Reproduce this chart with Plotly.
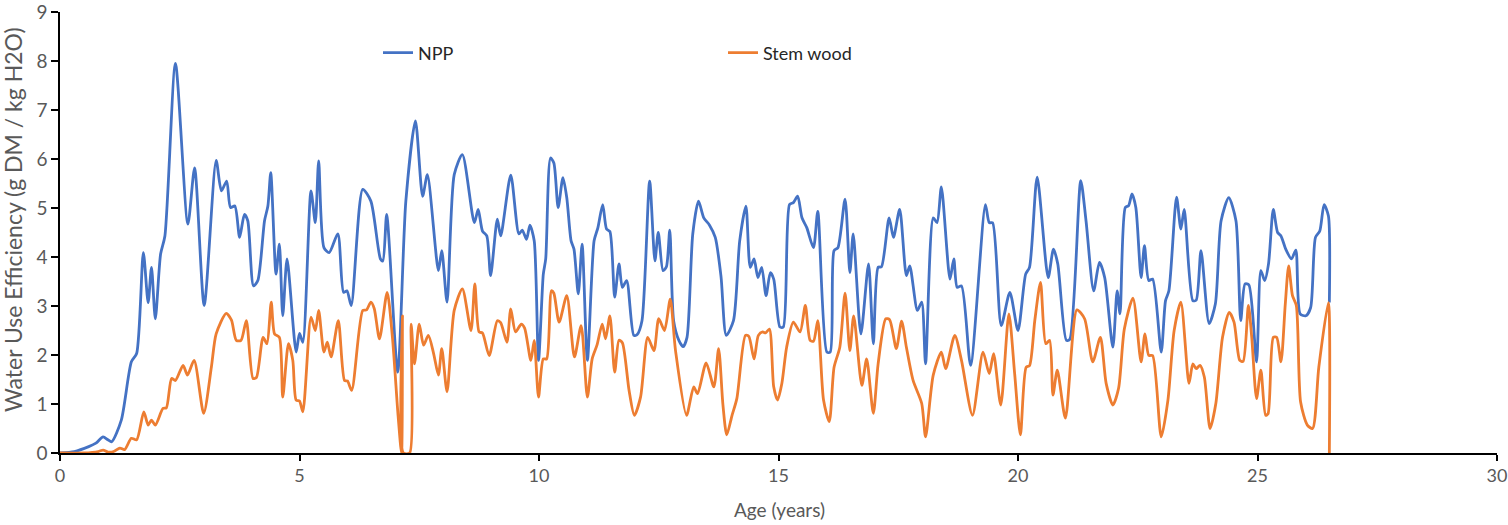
import plotly.graph_objects as go

npp_age = [0.00, 0.30, 0.60, 0.75, 0.90, 1.00, 1.08, 1.28, 1.49, 1.60, 1.74, 1.84, 1.91, 1.99, 2.10, 2.19, 2.41, 2.67, 2.81, 3.01,
           3.26, 3.37, 3.48, 3.56, 3.65, 3.75, 3.85, 3.92, 4.04, 4.13, 4.27, 4.34, 4.40, 4.51, 4.58, 4.65, 4.74, 4.93, 5.00, 5.07,
           5.24, 5.33, 5.40, 5.51, 5.62, 5.80, 5.92, 5.99, 6.08, 6.32, 6.49, 6.69, 6.74, 6.82, 7.05, 7.22, 7.42, 7.57, 7.67, 7.90,
           7.97, 8.08, 8.23, 8.40, 8.65, 8.73, 8.82, 8.91, 8.99, 9.13, 9.20, 9.41, 9.58, 9.65, 9.74, 9.81, 9.90, 9.99, 10.09, 10.14,
           10.24, 10.31, 10.40, 10.50, 10.58, 10.67, 10.73, 10.82, 10.90, 11.01, 11.15, 11.23, 11.33, 11.41, 11.48, 11.58, 11.67, 11.74, 11.83, 11.98,
           12.05, 12.15, 12.31, 12.42, 12.49, 12.59, 12.66, 12.73, 12.81, 12.92, 13.01, 13.09, 13.21, 13.33, 13.44, 13.56, 13.68, 13.80, 13.91, 14.06,
           14.19, 14.32, 14.41, 14.49, 14.57, 14.65, 14.74, 14.83, 14.90, 15.03, 15.10, 15.23, 15.31, 15.40, 15.49, 15.59, 15.73, 15.82, 16.01, 16.08,
           16.16, 16.24, 16.39, 16.49, 16.56, 16.72, 16.88, 16.98, 17.08, 17.15, 17.31, 17.40, 17.53, 17.67, 17.74, 17.90, 17.99, 18.07, 18.23, 18.31,
           18.40, 18.58, 18.66, 18.73, 18.82, 19.01, 19.32, 19.40, 19.47, 19.65, 19.83, 20.00, 20.16, 20.24, 20.40, 20.63, 20.74, 20.83, 21.01, 21.08,
           21.31, 21.42, 21.58, 21.70, 21.81, 21.98, 22.07, 22.13, 22.24, 22.31, 22.38, 22.46, 22.57, 22.64, 22.73, 22.81, 22.99, 23.08, 23.15, 23.31,
           23.40, 23.47, 23.65, 23.72, 23.82, 23.99, 24.12, 24.24, 24.40, 24.55, 24.65, 24.74, 24.82, 24.98, 25.07, 25.15, 25.23, 25.33, 25.42, 25.49,
           25.59, 25.71, 25.80, 25.89, 26.01, 26.11, 26.21, 26.30, 26.39, 26.48, 26.50]
npp_wue = [0.00, 0.03, 0.13, 0.20, 0.33, 0.27, 0.23, 0.67, 1.86, 2.03, 4.09, 3.07, 3.79, 2.74, 4.06, 4.43, 7.95, 4.67, 5.82, 3.01,
           5.97, 5.35, 5.55, 5.01, 5.04, 4.40, 4.87, 4.74, 3.41, 3.52, 4.74, 5.04, 5.72, 3.65, 4.26, 2.80, 3.96, 2.06, 2.44, 2.26,
           5.35, 4.70, 5.96, 4.19, 4.09, 4.47, 3.28, 3.31, 3.01, 5.38, 5.14, 3.96, 3.92, 4.87, 1.65, 5.14, 6.78, 5.24, 5.68, 3.72,
           4.13, 3.08, 5.68, 6.09, 4.70, 4.97, 4.53, 4.43, 3.62, 4.77, 4.43, 5.67, 4.47, 4.55, 4.36, 4.65, 4.33, 1.89, 3.65, 3.96,
           6.02, 5.92, 5.01, 5.62, 5.21, 4.33, 4.16, 3.25, 4.26, 1.89, 4.33, 4.60, 5.07, 4.57, 4.52, 3.18, 3.86, 3.38, 3.52, 2.40,
           2.42, 2.70, 5.55, 3.92, 4.50, 3.72, 3.80, 4.55, 2.70, 2.30, 2.17, 2.36, 4.47, 5.14, 4.80, 4.65, 4.40, 3.60, 2.40, 2.70,
           4.33, 5.04, 3.79, 3.96, 3.58, 3.79, 3.21, 3.68, 3.55, 2.57, 2.57, 5.07, 5.11, 5.24, 4.80, 4.60, 4.19, 4.93, 2.06, 2.06,
           4.13, 4.19, 5.18, 3.68, 4.47, 2.43, 3.86, 2.23, 3.79, 3.80, 4.80, 4.40, 4.97, 3.62, 3.82, 2.91, 3.08, 1.82, 4.80, 4.70,
           5.43, 3.55, 3.96, 3.38, 3.41, 1.79, 5.07, 4.70, 4.70, 2.60, 3.28, 2.50, 3.65, 3.79, 5.63, 3.58, 4.16, 3.86, 2.30, 2.32,
           5.56, 4.74, 3.31, 3.89, 3.58, 2.16, 3.31, 2.84, 5.01, 5.05, 5.29, 5.01, 3.58, 4.23, 3.52, 3.55, 2.06, 3.11, 3.31, 5.22,
           4.57, 4.97, 3.11, 3.12, 4.13, 2.64, 3.04, 4.74, 5.21, 4.74, 2.70, 3.45, 3.43, 1.86, 3.72, 3.52, 3.86, 4.97, 4.50, 4.43,
           4.16, 3.96, 4.14, 2.84, 2.80, 2.97, 4.40, 4.53, 5.07, 4.84, 3.07]

stem_age = [0.00, 0.50, 0.80, 0.90, 1.00, 1.12, 1.25, 1.35, 1.49, 1.60, 1.75, 1.84, 1.91, 1.99, 2.15, 2.22, 2.33, 2.41, 2.57, 2.66,
            2.80, 3.00, 3.16, 3.26, 3.47, 3.58, 3.68, 3.78, 3.89, 4.03, 4.10, 4.24, 4.32, 4.41, 4.48, 4.58, 4.65, 4.77, 4.86, 4.93,
            5.00, 5.07, 5.24, 5.33, 5.40, 5.51, 5.58, 5.66, 5.81, 5.94, 6.00, 6.09, 6.32, 6.40, 6.49, 6.56, 6.67, 6.83, 6.94, 7.06,
            7.13, 7.15, 7.17, 7.30, 7.33, 7.40, 7.50, 7.59, 7.69, 7.80, 7.90, 7.97, 8.08, 8.23, 8.40, 8.58, 8.66, 8.75, 8.82, 8.96,
            9.13, 9.20, 9.33, 9.41, 9.51, 9.63, 9.70, 9.83, 9.90, 9.99, 10.09, 10.16, 10.26, 10.31, 10.42, 10.58, 10.74, 10.88, 11.01, 11.11,
            11.21, 11.32, 11.39, 11.48, 11.58, 11.67, 11.74, 11.88, 11.99, 12.12, 12.27, 12.40, 12.50, 12.62, 12.74, 12.85, 13.08, 13.23, 13.31, 13.49,
            13.65, 13.75, 13.84, 13.92, 14.03, 14.13, 14.31, 14.38, 14.49, 14.58, 14.67, 14.73, 14.81, 14.90, 14.98, 15.07, 15.17, 15.31, 15.45, 15.56,
            15.66, 15.73, 15.82, 15.94, 16.06, 16.16, 16.28, 16.39, 16.49, 16.57, 16.74, 16.84, 16.98, 17.08, 17.24, 17.32, 17.46, 17.57, 17.67, 17.81,
            17.99, 18.07, 18.23, 18.40, 18.49, 18.68, 18.82, 19.05, 19.27, 19.40, 19.49, 19.64, 19.81, 19.93, 20.05, 20.17, 20.24, 20.35, 20.47, 20.58,
            20.66, 20.73, 20.82, 20.99, 21.23, 21.39, 21.56, 21.72, 21.84, 21.98, 22.10, 22.22, 22.40, 22.57, 22.65, 22.73, 22.81, 22.99, 23.13, 23.26,
            23.40, 23.57, 23.65, 23.72, 23.80, 23.89, 24.01, 24.13, 24.27, 24.41, 24.51, 24.63, 24.70, 24.81, 24.88, 24.98, 25.07, 25.17, 25.22, 25.33,
            25.40, 25.49, 25.58, 25.65, 25.73, 25.81, 25.90, 26.04, 26.15, 26.28, 26.48, 26.50]
stem_wue = [0.00, 0.00, 0.03, 0.06, 0.02, 0.03, 0.10, 0.07, 0.30, 0.27, 0.84, 0.57, 0.67, 0.57, 0.91, 0.92, 1.52, 1.48, 1.79, 1.59,
            1.89, 0.81, 1.75, 2.43, 2.85, 2.71, 2.30, 2.30, 2.70, 1.52, 1.54, 2.36, 2.23, 3.08, 2.43, 2.36, 1.14, 2.23, 1.89, 1.08,
            1.06, 0.84, 2.77, 2.50, 2.91, 2.06, 2.26, 1.96, 2.70, 1.48, 1.47, 1.28, 2.91, 2.92, 3.08, 2.95, 2.33, 3.28, 2.36, 0.74,
            0.00, 2.80, 0.00, 0.00, 2.63, 1.82, 2.63, 2.20, 2.40, 2.03, 1.59, 2.13, 1.25, 2.91, 3.35, 2.50, 3.45, 2.47, 2.45, 1.99,
            2.70, 2.66, 2.26, 2.94, 2.47, 2.63, 2.55, 1.89, 2.30, 1.14, 1.92, 1.92, 3.31, 3.26, 2.67, 3.21, 1.96, 2.60, 1.14, 1.92,
            2.20, 2.63, 2.33, 2.80, 1.65, 2.30, 2.25, 1.28, 0.77, 1.14, 2.36, 2.09, 2.74, 2.50, 3.14, 2.09, 0.77, 1.35, 1.21, 1.84,
            1.35, 2.13, 0.98, 0.37, 0.77, 1.11, 2.40, 2.38, 1.92, 2.40, 2.47, 2.45, 2.53, 1.35, 1.08, 1.42, 2.16, 2.67, 2.47, 3.01,
            2.30, 2.28, 2.70, 1.08, 0.64, 1.75, 2.16, 3.26, 2.09, 2.80, 1.38, 1.92, 0.81, 1.82, 2.74, 2.72, 2.13, 2.69, 2.16, 1.48,
            1.01, 0.33, 1.59, 2.06, 1.72, 2.40, 1.89, 0.77, 2.06, 1.62, 2.03, 0.98, 2.84, 1.62, 0.37, 1.75, 1.78, 2.70, 3.48, 2.23,
            2.30, 1.18, 1.69, 0.71, 2.92, 2.74, 1.86, 2.36, 1.42, 0.98, 1.32, 2.53, 3.16, 1.86, 2.43, 1.99, 1.99, 0.33, 1.08, 2.50,
            3.08, 1.42, 1.82, 1.72, 1.79, 1.55, 0.50, 1.01, 2.36, 2.87, 2.67, 1.89, 1.87, 3.01, 2.36, 1.11, 1.69, 0.77, 0.80, 2.36,
            2.36, 1.86, 3.04, 3.82, 3.21, 3.01, 1.04, 0.57, 0.50, 1.75, 3.07, 0.00]

x_ticks = [0, 5, 10, 15, 20, 25, 30]
y_ticks = [0, 1, 2, 3, 4, 5, 6, 7, 8, 9]
x_title = "Age (years)"
y_title = "Water Use Efficiency (g DM / kg H2O)"

FONT = "Lato, 'Open Sans', sans-serif"
GREY = "#595959"

L, R, T, B = 60, 11, 12, 72
W, H = 1508, 525
PW, PH = W - L - R, H - T - B

fig = go.Figure()
fig.add_trace(go.Scatter(x=npp_age, y=npp_wue, mode="lines", name="NPP", showlegend=True,
                         line=dict(color="#4472C4", width=2.8, shape="spline", smoothing=0.7),
                         legend="legend"))
fig.add_trace(go.Scatter(x=stem_age, y=stem_wue, mode="lines", name="Stem wood", showlegend=True,
                         line=dict(color="#ED7D31", width=2.8, shape="spline", smoothing=0.7),
                         legend="legend2"))

legend_font = dict(family=FONT, size=18, color="#262626")
fig.update_layout(
    width=W, height=H, showlegend=True,
    margin=dict(l=L, r=R, t=T, b=B, autoexpand=False),
    paper_bgcolor="white", plot_bgcolor="white",
    font=dict(family=FONT, size=16, color=GREY),
    legend=dict(x=(378 - L) / PW, y=(H - B - 53) / PH, xanchor="left", yanchor="middle",
                bgcolor="rgba(0,0,0,0)", font=legend_font),
    legend2=dict(x=(723 - L) / PW, y=(H - B - 53) / PH, xanchor="left", yanchor="middle",
                 bgcolor="rgba(0,0,0,0)", font=legend_font),
    xaxis=dict(range=[0, 30], tickvals=x_ticks, ticktext=[str(v) for v in x_ticks],
               showgrid=False, zeroline=False, showline=True, linecolor="black", linewidth=1.5,
               ticks="outside", ticklen=6, tickcolor="black", tickwidth=1.5,
               ticklabeloverflow="allow", automargin=False,
               tickfont=dict(family=FONT, size=18, color=GREY)),
    yaxis=dict(range=[0, 9], tickvals=y_ticks, ticktext=[str(v) for v in y_ticks],
               showgrid=False, zeroline=False, showline=True, linecolor="black", linewidth=1.5,
               ticks="outside", ticklen=7, tickcolor="black", tickwidth=1.5,
               ticklabeloverflow="allow", automargin=False,
               tickfont=dict(family=FONT, size=19, color=GREY)),
    annotations=[
        dict(text=x_title, xref="paper", yref="paper", x=(779 - L) / PW, y=-(510 - (H - B)) / PH,
             xanchor="center", yanchor="middle", showarrow=False,
             font=dict(family=FONT, size=19, color=GREY)),
        dict(text=y_title, xref="paper", yref="paper", x=-(L - 13) / PW, y=(H - B - 220) / PH,
             xanchor="center", yanchor="middle", showarrow=False, textangle=-90,
             font=dict(family=FONT, size=23, color=GREY)),
    ],
)

fig.write_html("out.html")
